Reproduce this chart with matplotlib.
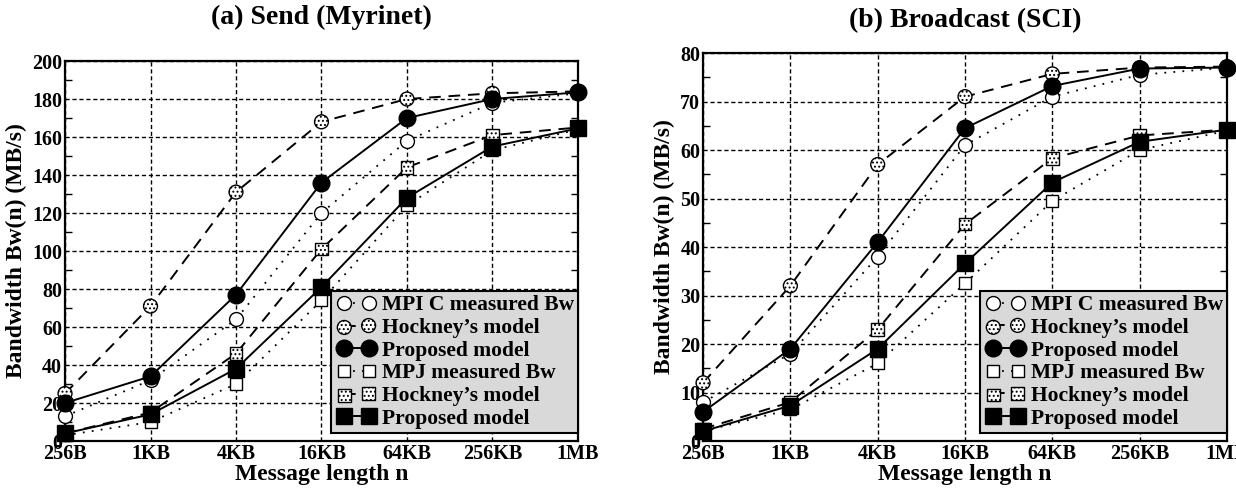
import matplotlib
matplotlib.use('Agg')
import matplotlib.pyplot as plt
from matplotlib.collections import PathCollection
from matplotlib.lines import Line2D
from matplotlib.legend_handler import HandlerTuple, HandlerLine2D, HandlerPathCollection
from matplotlib.ticker import MultipleLocator

plt.rcParams['font.family'] = ['Liberation Serif', 'DejaVu Serif']
plt.rcParams['font.weight'] = 'bold'
plt.rcParams['axes.labelweight'] = 'bold'
plt.rcParams['hatch.linewidth'] = 0.9

# message sizes in bytes and their labels
sizes = [256, 1024, 4096, 16384, 65536, 262144, 1048576]
size_labels = ['256B', '1KB', '4KB', '16KB', '64KB', '256KB', '1MB']

# (a) Send (Myrinet)
a_mpic_meas = [13, 32, 64, 120, 158, 178, 183]
a_mpic_hock = [25, 71, 131, 168, 180, 183, 184]
a_mpic_prop = [20, 34, 77, 136, 170, 180, 183.5]
a_mpj_meas = [3, 10, 30, 74, 124, 153, 164]
a_mpj_hock = [4, 15, 46, 101, 144, 161, 165]
a_mpj_prop = [4, 14, 38, 81, 128, 155, 164.5]

# (b) Broadcast (SCI)
b_mpic_meas = [8, 18, 38, 61, 71, 75.5, 77]
b_mpic_hock = [12, 32, 57, 71, 75.7, 77, 77.2]
b_mpic_prop = [6, 19, 41, 64.5, 73.2, 76.8, 77]
b_mpj_meas = [2, 6.5, 16, 32.5, 49.5, 60, 64]
b_mpj_hock = [2.5, 8, 23, 44.7, 58.3, 63, 64.2]
b_mpj_prop = [2, 7.3, 19, 36.6, 53.3, 61.7, 64.2]

labels = ['MPI C measured Bw', 'Hockney\u2019s model', 'Proposed model',
          'MPJ measured Bw', 'Hockney\u2019s model', 'Proposed model']

DOT = (0, (1, 4))
DASH = (0, (6, 4))
HATCH = '....'


def panel(ax, series, title, ymax, ymaj, ymin, pad):
    meas_c, hock_c, prop_c, meas_j, hock_j, prop_j = series
    handles = []
    for meas, hock, prop, mk, ms_f, ms_o in [(meas_c, hock_c, prop_c, 'o', 12, 10),
                                            (meas_j, hock_j, prop_j, 's', 11, 9)]:
        h1, = ax.plot(sizes, meas, color='k', lw=1.3, ls=DOT, marker=mk, ms=ms_o,
                      mfc='white', mec='k', mew=1.0, clip_on=False, zorder=3)
        l2, = ax.plot(sizes, hock, color='k', lw=1.4, ls=DASH, clip_on=False, zorder=3)
        s2 = ax.scatter(sizes, hock, s=ms_o ** 2, marker=mk, facecolors='white',
                        edgecolors='k', linewidths=1.0, hatch=HATCH, clip_on=False, zorder=4)
        h3, = ax.plot(sizes, prop, color='k', lw=1.4, ls='-', marker=mk, ms=ms_f,
                      mfc='k', mec='k', clip_on=False, zorder=5)
        handles += [h1, (l2, s2), h3]

    ax.set_xscale('log', base=2)
    ax.set_xlim(sizes[0], sizes[-1])
    ax.set_xticks(sizes)
    ax.set_xticklabels(size_labels)
    ax.minorticks_off()
    ax.set_ylim(0, ymax)
    ax.yaxis.set_major_locator(MultipleLocator(ymaj))
    ax.yaxis.set_minor_locator(MultipleLocator(ymin))
    ax.tick_params(which='both', direction='in', right=True, top=True, labelsize=14.5, pad=2)
    ax.tick_params(axis='x', which='minor', bottom=False, top=False)
    ax.tick_params(which='major', length=0)
    ax.tick_params(which='minor', length=5, width=1)
    ax.grid(True, which='major', color='k', ls=(0, (3, 2)), lw=1.0)
    for sp in ax.spines.values():
        sp.set_linewidth(1.6)
    ax.set_xlabel('Message length n', fontsize=17, labelpad=0)
    ax.set_ylabel('Bandwidth Bw(n) (MB/s)', fontsize=17, labelpad=4)
    ax.set_title(title, fontsize=20, fontweight='bold', pad=pad)

    hmap = {tuple: HandlerTuple(ndivide=1),
            Line2D: HandlerLine2D(marker_pad=0.4),
            PathCollection: HandlerPathCollection(marker_pad=0.4)}
    leg = ax.legend(handles, labels, loc='lower right', bbox_to_anchor=(1.0, 0.021),
                    borderaxespad=0, numpoints=2, scatterpoints=2, fontsize=15.5,
                    handlelength=1.93, handletextpad=0.2, labelspacing=0.12,
                    borderpad=0.2, fancybox=False, framealpha=1, handler_map=hmap)
    leg.get_frame().set_facecolor('#d9d9d9')
    leg.get_frame().set_edgecolor('k')
    leg.get_frame().set_linewidth(1.5)
    leg.set_zorder(10)


fig = plt.figure(figsize=(12.36, 4.9), dpi=100)
ax1 = fig.add_axes([0.0526, 0.10, 0.4150, 0.7755])
ax2 = fig.add_axes([0.5688, 0.10, 0.4239, 0.7918])

panel(ax1, [a_mpic_meas, a_mpic_hock, a_mpic_prop, a_mpj_meas, a_mpj_hock, a_mpj_prop],
      '(a) Send (Myrinet)', 200, 20, 10, 27)
panel(ax2, [b_mpic_meas, b_mpic_hock, b_mpic_prop, b_mpj_meas, b_mpj_hock, b_mpj_prop],
      '(b) Broadcast (SCI)', 80, 10, 5, 19)

fig.savefig('out.png', dpi=100)
